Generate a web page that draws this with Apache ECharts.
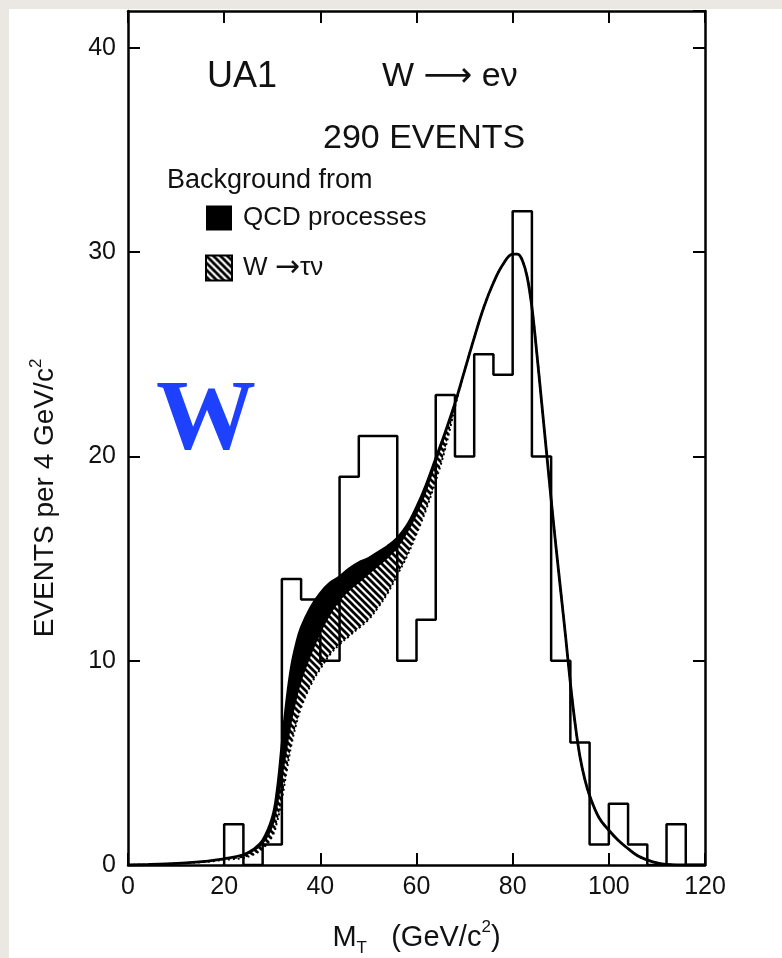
<!DOCTYPE html>
<html>
  <head>
    <meta charset="utf-8" />
    <script src="https://cdn.jsdelivr.net/npm/echarts@6/dist/echarts.min.js"></script>
  </head>
  <body>
    <style>
      html, body {
        margin: 0;
        width: 100%;
        height: 100%;
        overflow: hidden;
        background: #ebe8e3;
      }
      #main {
        position: absolute;
        left: 9px;
        top: 9px;
        width: 773px;
        height: 949px;
        background: #fff;
      }
    </style>
    <div id="main"></div>
    <script type="text/javascript">
      // histogram: left edge of each 4 GeV bin and the events in it (sum = 290)
      var binLeft = [20, 24, 28, 32, 36, 40, 44, 48, 52, 56, 60, 64, 68, 72, 76, 80, 84, 88, 92, 96, 100, 104, 108, 112, 116];
      var binCounts = [2, 0, 1, 14, 13, 10, 19, 21, 21, 10, 12, 23, 20, 25, 24, 32, 20, 10, 6, 1, 3, 1, 0, 2, 0];
      var binWidth = 4;

      // fitted curves
      var fitMass = [0, 4, 8, 12, 16, 20, 24, 26, 28, 30, 31, 32, 33, 34, 35, 36, 38, 40, 42, 44, 46, 48, 50, 52, 54, 56, 58, 60, 62, 64, 66, 68, 70, 72, 74, 76, 78, 80, 81, 82, 83, 84, 85, 86, 87, 88, 89, 90, 91, 92, 93, 94, 95, 96, 98, 100, 102, 104, 106, 108, 110, 112, 116, 120];
      // total = W->ev + W->tau nu + QCD
      var fitTotal = [0, 0.02, 0.05, 0.1, 0.18, 0.3, 0.5, 0.75, 1.2, 2.3, 3.6, 5.8, 8.0, 9.7, 10.8, 11.6, 12.6, 13.3, 13.8, 14.1, 14.5, 14.8, 15.0, 15.3, 15.6, 16.0, 16.6, 17.5, 18.6, 19.9, 21.2, 22.6, 24.2, 25.8, 27.3, 28.5, 29.4, 29.9, 29.9, 29.6, 28.8, 27.3, 25.1, 22.7, 20.3, 17.9, 15.6, 13.4, 11.2, 8.9, 6.9, 5.3, 4.2, 3.4, 2.3, 1.7, 1.2, 0.8, 0.45, 0.25, 0.1, 0.03, 0, 0];
      // W->ev + W->tau nu (lower edge of the QCD band)
      var fitNoQcd = [0, 0.02, 0.05, 0.1, 0.18, 0.3, 0.45, 0.65, 1.0, 1.8, 2.7, 4.1, 5.5, 6.9, 8.0, 8.9, 10.2, 11.3, 12.2, 12.9, 13.4, 13.8, 14.2, 14.6, 15.0, 15.5, 16.2, 17.1, 18.2, 19.6, 21.0, 22.6, 24.2, 25.8, 27.3, 28.5, 29.4, 29.9, 29.9, 29.6, 28.8, 27.3, 25.1, 22.7, 20.3, 17.9, 15.6, 13.4, 11.2, 8.9, 6.9, 5.3, 4.2, 3.4, 2.3, 1.7, 1.2, 0.8, 0.45, 0.25, 0.1, 0.03, 0, 0];
      // W->ev alone (lower edge of the hatched band)
      var fitSignal = [0, 0.02, 0.05, 0.1, 0.15, 0.25, 0.35, 0.5, 0.8, 1.4, 2.1, 3.2, 4.6, 5.9, 6.9, 7.7, 8.8, 9.6, 10.3, 10.8, 11.2, 11.6, 12.0, 12.6, 13.3, 14.2, 15.1, 16.2, 17.4, 18.8, 20.4, 22.4, 24.2, 25.8, 27.3, 28.5, 29.4, 29.9, 29.9, 29.6, 28.8, 27.3, 25.1, 22.7, 20.3, 17.9, 15.6, 13.4, 11.2, 8.9, 6.9, 5.3, 4.2, 3.4, 2.3, 1.7, 1.2, 0.8, 0.45, 0.25, 0.1, 0.03, 0, 0];

      var FONT = '"Liberation Sans", "DejaVu Sans", sans-serif';
      var INK = '#111';

      // diagonal hatching (opaque, white ground) for the W -> tau nu band
      function makeHatch() {
        var c = document.createElement('canvas');
        c.width = 7;
        c.height = 7;
        var g = c.getContext('2d');
        g.fillStyle = '#fff';
        g.fillRect(0, 0, 7, 7);
        g.strokeStyle = '#000';
        g.lineWidth = 2.8;
        g.beginPath();
        g.moveTo(-1, -1); g.lineTo(8, 8);
        g.moveTo(-1, 6); g.lineTo(1, 8);
        g.moveTo(6, -1); g.lineTo(8, 1);
        g.stroke();
        return c;
      }
      var hatch = { image: makeHatch(), repeat: 'repeat' };

      function pairs(xs, ys) {
        var out = [];
        for (var k = 0; k < xs.length; k++) out.push([xs[k], ys[k]]);
        return out;
      }

      var histData = [[binLeft[0], 0]].concat(pairs(binLeft, binCounts));
      histData.push([binLeft[binLeft.length - 1] + binWidth, 0]);

      var frameLine = { show: true, onZero: false, lineStyle: { color: '#000', width: 2.5 } };
      var frameTick = { show: true, inside: true, length: 12, lineStyle: { color: '#000', width: 2 } };
      var curve = { type: 'line', smooth: 0.4, showSymbol: false, silent: true };

      var myChart = echarts.init(document.getElementById('main'));
      var option = {
        animation: false,
        backgroundColor: '#fff',
        grid: { left: 119, top: 2, right: 77, bottom: 93, outerBoundsMode: 'none' },
        legend: {
          z: 20,
          orient: 'vertical',
          left: 196,
          top: 196,
          padding: 0,
          icon: 'rect',
          itemWidth: 26,
          itemHeight: 25,
          itemGap: 22,
          selectedMode: false,
          formatter: function (name) {
            return name === 'QCD processes' ? name : 'W {a|\u2192}\u03c4\u03bd';
          },
          textStyle: {
            fontFamily: FONT, fontSize: 26, color: INK, padding: [0, 0, 0, 6],
            rich: { a: { fontFamily: '"DejaVu Sans"', fontSize: 30, color: INK } }
          },
          data: [
            { name: 'QCD processes', itemStyle: { color: '#000' } },
            { name: 'W \u2192\u03c4\u03bd', itemStyle: { color: hatch, borderColor: '#000', borderWidth: 2 } }
          ]
        },
        xAxis: [
          {
            type: 'value',
            z: 10,
            min: 0,
            max: 120,
            interval: 20,
            axisLine: frameLine,
            axisTick: frameTick,
            splitLine: { show: false },
            axisLabel: { margin: 10, fontFamily: FONT, fontSize: 25, color: INK },
            name: '{t|M}{sub|T}{t|   (GeV/c}{sup|2}{t|)}',
            nameLocation: 'middle',
            nameGap: 54,
            nameTextStyle: {
              rich: {
                t: { fontFamily: FONT, fontSize: 29, color: INK, lineHeight: 38, verticalAlign: 'middle' },
                sub: { fontFamily: FONT, fontSize: 17, color: INK, lineHeight: 38, verticalAlign: 'bottom' },
                sup: { fontFamily: FONT, fontSize: 17, color: INK, lineHeight: 38, verticalAlign: 'top' }
              }
            }
          },
          {
            type: 'value',
            z: 10,
            position: 'top',
            min: 0,
            max: 120,
            interval: 20,
            axisLine: frameLine,
            axisTick: frameTick,
            axisLabel: { show: false },
            splitLine: { show: false }
          }
        ],
        yAxis: [
          {
            type: 'value',
            z: 10,
            min: 0,
            max: 41.8,
            interval: 10,
            axisLine: frameLine,
            axisTick: frameTick,
            splitLine: { show: false },
            axisLabel: { margin: 12, fontFamily: FONT, fontSize: 25, color: INK, showMaxLabel: false },
            name: '{t|EVENTS per 4 GeV/c}{sup|2}',
            nameLocation: 'middle',
            nameGap: 66,
            nameTextStyle: {
              padding: [0, 120, 0, 0],
              rich: {
                t: { fontFamily: FONT, fontSize: 28, color: INK, lineHeight: 34, verticalAlign: 'middle' },
                sup: { fontFamily: FONT, fontSize: 17, color: INK, lineHeight: 34, verticalAlign: 'top' }
              }
            }
          },
          {
            type: 'value',
            z: 10,
            position: 'right',
            min: 0,
            max: 41.8,
            interval: 10,
            axisLine: frameLine,
            axisTick: frameTick,
            axisLabel: { show: false },
            splitLine: { show: false }
          }
        ],
        series: [
          // layered bands: black to the total, hatched to W->ev + W->tau nu, white to W->ev
          Object.assign({}, curve, {
            name: 'QCD processes',
            data: pairs(fitMass, fitTotal),
            z: 2,
            itemStyle: { color: '#000' },
            lineStyle: { width: 0 },
            areaStyle: { color: '#000', opacity: 1 }
          }),
          Object.assign({}, curve, {
            name: 'W \u2192\u03c4\u03bd',
            data: pairs(fitMass, fitNoQcd),
            z: 3,
            itemStyle: { color: '#000' },
            lineStyle: { width: 0 },
            areaStyle: { color: hatch, opacity: 1 }
          }),
          Object.assign({}, curve, {
            name: 'W \u2192 e\u03bd',
            data: pairs(fitMass, fitSignal),
            z: 4,
            itemStyle: { color: '#000' },
            lineStyle: { color: '#000', width: 2, type: [2, 3] },
            areaStyle: { color: '#fff', opacity: 1 }
          }),
          Object.assign({}, curve, {
            name: 'Total fit',
            data: pairs(fitMass, fitTotal),
            z: 6,
            lineStyle: { color: '#000', width: 2.8 }
          }),
          {
            name: 'UA1 data',
            type: 'line',
            step: 'end',
            data: histData,
            showSymbol: false,
            z: 5,
            lineStyle: { color: '#000', width: 2.5 }
          }
        ],
        graphic: [
          { type: 'text', x: 198, y: 68, style: { text: 'UA1', fontFamily: FONT, fontSize: 36, fill: INK, verticalAlign: 'middle' } },
          { type: 'text', x: 373, y: 68, style: { text: 'W \u27f6 e\u03bd', fontFamily: FONT, fontSize: 34, fill: INK, verticalAlign: 'middle' } },
          { type: 'text', x: 314, y: 130, style: { text: '290 EVENTS', fontFamily: FONT, fontSize: 34, fill: INK, verticalAlign: 'middle' } },
          { type: 'text', x: 158, y: 172, style: { text: 'Background from', fontFamily: FONT, fontSize: 27, fill: INK, verticalAlign: 'middle' } },
          { type: 'text', x: 147, y: 413, style: { text: 'W', fontFamily: '"Liberation Serif", serif', fontWeight: 'bold', fontSize: 100, fill: '#1d41ff', verticalAlign: 'middle' } }
        ]
      };
      myChart.setOption(option);
    </script>
  </body>
</html>
